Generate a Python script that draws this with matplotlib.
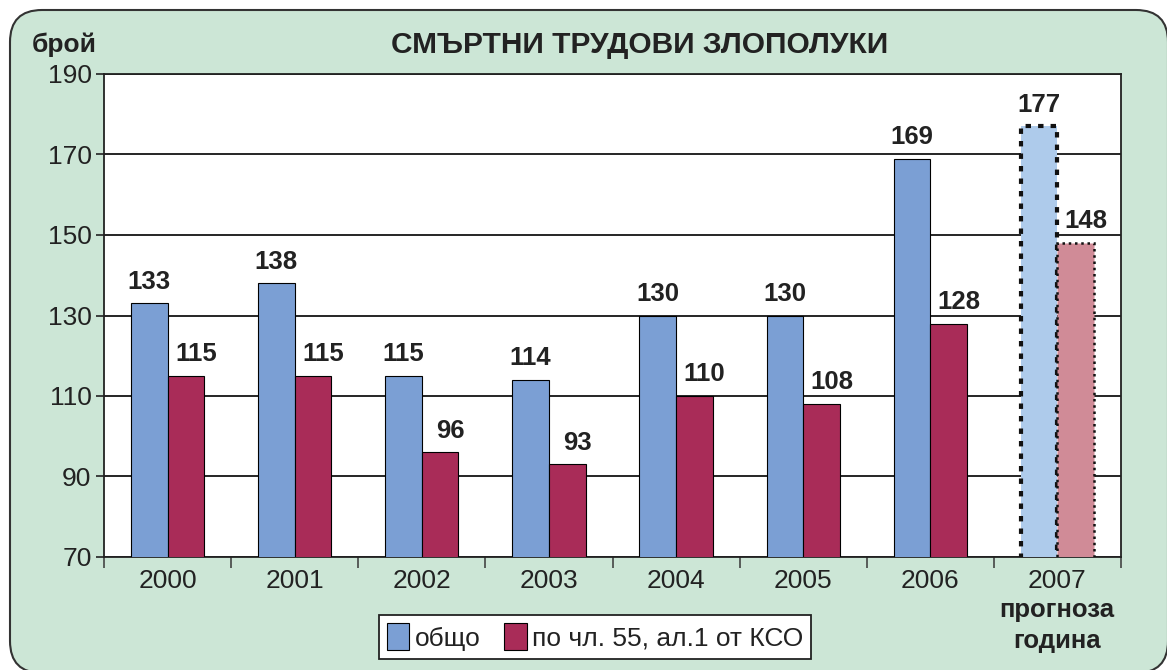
import numpy as np
import matplotlib.pyplot as plt
from matplotlib.patches import FancyBboxPatch, Patch

plt.rcParams['font.family'] = ['Liberation Sans', 'DejaVu Sans']

years = ['2000', '2001', '2002', '2003', '2004', '2005', '2006', '2007']
total = [133, 138, 115, 114, 130, 130, 169, 177]
art55 = [115, 115, 96, 93, 110, 108, 128, 148]

c_blue = '#7b9fd4'
c_red = '#a92c58'
c_blue_fc = '#aecbeb'
c_red_fc = '#d08b97'

fig = plt.figure(figsize=(11.67, 6.70), dpi=100)
W, H = 1167, 670

# green rounded background panel (inches)
bg = FancyBboxPatch((0.10, -0.03), 11.58, 6.63, transform=fig.dpi_scale_trans,
                    boxstyle='round,pad=0,rounding_size=0.32',
                    facecolor='#cce6d6', edgecolor='#333333', linewidth=1.5,
                    zorder=-10)
fig.add_artist(bg)

ax = fig.add_axes([104 / W, 1 - 557 / H, (1121 - 104) / W, (557 - 74) / H])
ax.set_zorder(5)
ax.set_facecolor('white')

x = np.arange(len(years))
w = 0.288
for i in range(len(years)):
    if i < 7:
        ax.bar(x[i] - w / 2, total[i], w, color=c_blue,
               edgecolor='black', linewidth=0.8, zorder=3)
        ax.bar(x[i] + w / 2, art55[i], w, color=c_red,
               edgecolor='black', linewidth=0.8, zorder=3)
    else:
        ax.bar(x[i] - w / 2, total[i], w, color=c_blue_fc, edgecolor='#111111',
               linewidth=3, linestyle=(0, (1.3, 1.7)), zorder=3)
        ax.bar(x[i] + w / 2, art55[i], w, color=c_red_fc, edgecolor='#111111',
               linewidth=1.8, linestyle=(0, (1, 1.5)), zorder=3)

for i in range(len(years)):
    ax.annotate(str(total[i]), (x[i] - w / 2, total[i]), xytext=(0, 7),
                textcoords='offset points', ha='center', va='bottom',
                fontsize=18.5, fontweight='bold', color='#222222')
    ax.annotate(str(art55[i]), (x[i] + w / 2 + 0.08, art55[i]), xytext=(0, 7),
                textcoords='offset points', ha='center', va='bottom',
                fontsize=18.5, fontweight='bold', color='#222222')

ax.set_ylim(70, 190)
ax.set_xlim(-0.5, 7.5)
ax.set_yticks(np.arange(70, 191, 20))
ax.yaxis.grid(True, color='black', linewidth=1.2, zorder=1)
ax.set_axisbelow(True)
ax.set_xticks(x)
ax.set_xticklabels(years)
ax.set_xticks(np.arange(-0.5, 7.6, 1), minor=True)
ax.tick_params(axis='x', which='major', length=0, pad=9, labelsize=19, colors='#222222')
ax.tick_params(axis='x', which='minor', length=8, width=1.2, color='#444444')
ax.tick_params(axis='y', length=6, width=1.2, labelsize=19, colors='#222222', pad=3)
for s in ax.spines.values():
    s.set_color('#222222')
    s.set_linewidth(1.3)

fig.text(640 / W, 1 - 45 / H, 'СМЪРТНИ ТРУДОВИ ЗЛОПОЛУКИ', ha='center', va='center',
         fontsize=21.5, fontweight='bold', color='#222222')
fig.text(32 / W, 1 - 45 / H, 'брой', ha='left', va='center',
         fontsize=19, fontweight='bold', color='#222222')
fig.text(1057 / W, 1 - 610 / H, 'прогноза', ha='center', va='center',
         fontsize=18.5, fontweight='bold', color='#222222')
fig.text(1057 / W, 1 - 641 / H, 'година', ha='center', va='center',
         fontsize=18.5, fontweight='bold', color='#222222')

handles = [Patch(facecolor=c_blue, edgecolor='black', linewidth=0.8, label='общо'),
           Patch(facecolor=c_red, edgecolor='black', linewidth=0.8, label='по чл. 55, ал.1 от КСО')]
leg = fig.legend(handles=handles, loc='center', bbox_to_anchor=(595 / W, 1 - 637 / H),
                 ncol=2, fontsize=19, frameon=True, fancybox=False, edgecolor='#222222',
                 handlelength=0.85, handleheight=1.2, handletextpad=0.2,
                 columnspacing=0.9, borderpad=0.3, borderaxespad=0, framealpha=1)
leg.get_frame().set_linewidth(1.3)
for t in leg.get_texts():
    t.set_color('#222222')

fig.savefig('out.png', dpi=100)
